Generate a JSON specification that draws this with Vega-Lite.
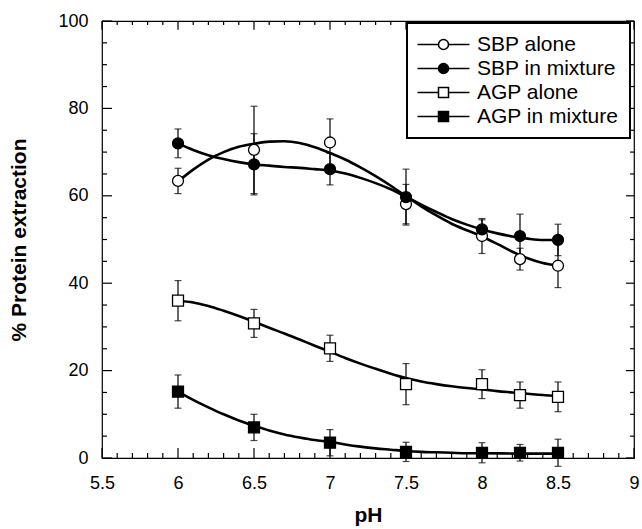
{
  "$schema": "https://vega.github.io/schema/vega-lite/v6.json",
  "autosize": "none",
  "width": 532,
  "height": 437,
  "padding": {"left": 102, "top": 21, "right": 8, "bottom": 71},
  "background": "white",
  "config": {
    "font": "Liberation Sans",
    "view": {"stroke": "black", "strokeWidth": 1.2},
    "axis": {"labelFont": "Liberation Sans", "titleFont": "Liberation Sans", "labelColor": "black", "titleColor": "black", "grid": false, "domain": false, "ticks": false},
    "legend": {"strokeWidth": 2}
  },
  "datasets": {
    "xmajor": [{"t": 5.5}, {"t": 6}, {"t": 6.5}, {"t": 7}, {"t": 7.5}, {"t": 8}, {"t": 8.5}, {"t": 9}],
    "xminor": [{"t": 5.6}, {"t": 5.7}, {"t": 5.8}, {"t": 5.9}, {"t": 6.1}, {"t": 6.2}, {"t": 6.3}, {"t": 6.4}, {"t": 6.6}, {"t": 6.7}, {"t": 6.8}, {"t": 6.9}, {"t": 7.1}, {"t": 7.2}, {"t": 7.3}, {"t": 7.4}, {"t": 7.6}, {"t": 7.7}, {"t": 7.8}, {"t": 7.9}, {"t": 8.1}, {"t": 8.2}, {"t": 8.3}, {"t": 8.4}, {"t": 8.6}, {"t": 8.7}, {"t": 8.8}, {"t": 8.9}],
    "ymajor": [{"t": 0}, {"t": 20}, {"t": 40}, {"t": 60}, {"t": 80}, {"t": 100}],
    "yminor": [{"t": 5}, {"t": 10}, {"t": 15}, {"t": 25}, {"t": 30}, {"t": 35}, {"t": 45}, {"t": 50}, {"t": 55}, {"t": 65}, {"t": 70}, {"t": 75}, {"t": 85}, {"t": 90}, {"t": 95}],
    "points": [
      {"pH": 6.0, "value": 63.4, "err": 2.9, "series": "SBP alone"},
      {"pH": 6.5, "value": 70.5, "err": 10.0, "series": "SBP alone"},
      {"pH": 7.0, "value": 72.2, "err": 5.4, "series": "SBP alone"},
      {"pH": 7.5, "value": 58.1, "err": 4.5, "series": "SBP alone"},
      {"pH": 8.0, "value": 50.8, "err": 4.0, "series": "SBP alone"},
      {"pH": 8.25, "value": 45.5, "err": 2.5, "series": "SBP alone"},
      {"pH": 8.5, "value": 44.0, "err": 5.0, "series": "SBP alone"},
      {"pH": 6.0, "value": 72.0, "err": 3.3, "series": "SBP in mixture"},
      {"pH": 6.5, "value": 67.2, "err": 7.0, "series": "SBP in mixture"},
      {"pH": 7.0, "value": 66.1, "err": 3.6, "series": "SBP in mixture"},
      {"pH": 7.5, "value": 59.7, "err": 6.4, "series": "SBP in mixture"},
      {"pH": 8.0, "value": 52.3, "err": 2.2, "series": "SBP in mixture"},
      {"pH": 8.25, "value": 50.8, "err": 5.0, "series": "SBP in mixture"},
      {"pH": 8.5, "value": 49.9, "err": 3.6, "series": "SBP in mixture"},
      {"pH": 6.0, "value": 36.0, "err": 4.6, "series": "AGP alone"},
      {"pH": 6.5, "value": 30.8, "err": 3.2, "series": "AGP alone"},
      {"pH": 7.0, "value": 25.1, "err": 3.0, "series": "AGP alone"},
      {"pH": 7.5, "value": 16.9, "err": 4.7, "series": "AGP alone"},
      {"pH": 8.0, "value": 16.9, "err": 3.3, "series": "AGP alone"},
      {"pH": 8.25, "value": 14.4, "err": 3.0, "series": "AGP alone"},
      {"pH": 8.5, "value": 14.0, "err": 3.4, "series": "AGP alone"},
      {"pH": 6.0, "value": 15.2, "err": 3.8, "series": "AGP in mixture"},
      {"pH": 6.5, "value": 7.0, "err": 3.0, "series": "AGP in mixture"},
      {"pH": 7.0, "value": 3.5, "err": 3.0, "series": "AGP in mixture"},
      {"pH": 7.5, "value": 1.4, "err": 2.2, "series": "AGP in mixture"},
      {"pH": 8.0, "value": 1.2, "err": 2.3, "series": "AGP in mixture"},
      {"pH": 8.25, "value": 1.2, "err": 1.9, "series": "AGP in mixture"},
      {"pH": 8.5, "value": 1.2, "err": 3.1, "series": "AGP in mixture"}
    ],
    "curves": [
      {"pH": 6.0, "value": 63.3, "series": "SBP alone"},
      {"pH": 6.1, "value": 66.0, "series": "SBP alone"},
      {"pH": 6.2, "value": 68.3, "series": "SBP alone"},
      {"pH": 6.3, "value": 70.0, "series": "SBP alone"},
      {"pH": 6.4, "value": 71.2, "series": "SBP alone"},
      {"pH": 6.5, "value": 71.9, "series": "SBP alone"},
      {"pH": 6.6, "value": 72.4, "series": "SBP alone"},
      {"pH": 6.7, "value": 72.5, "series": "SBP alone"},
      {"pH": 6.8, "value": 72.1, "series": "SBP alone"},
      {"pH": 6.9, "value": 71.1, "series": "SBP alone"},
      {"pH": 7.0, "value": 69.8, "series": "SBP alone"},
      {"pH": 7.1, "value": 68.3, "series": "SBP alone"},
      {"pH": 7.2, "value": 66.5, "series": "SBP alone"},
      {"pH": 7.3, "value": 64.5, "series": "SBP alone"},
      {"pH": 7.4, "value": 62.3, "series": "SBP alone"},
      {"pH": 7.5, "value": 59.9, "series": "SBP alone"},
      {"pH": 7.6, "value": 57.6, "series": "SBP alone"},
      {"pH": 7.7, "value": 55.5, "series": "SBP alone"},
      {"pH": 7.8, "value": 53.6, "series": "SBP alone"},
      {"pH": 7.9, "value": 52.1, "series": "SBP alone"},
      {"pH": 8.0, "value": 50.7, "series": "SBP alone"},
      {"pH": 8.1, "value": 49.0, "series": "SBP alone"},
      {"pH": 8.2, "value": 47.2, "series": "SBP alone"},
      {"pH": 8.3, "value": 45.7, "series": "SBP alone"},
      {"pH": 8.4, "value": 44.6, "series": "SBP alone"},
      {"pH": 8.5, "value": 44.0, "series": "SBP alone"},
      {"pH": 6.0, "value": 72.0, "series": "SBP in mixture"},
      {"pH": 6.1, "value": 70.5, "series": "SBP in mixture"},
      {"pH": 6.2, "value": 69.3, "series": "SBP in mixture"},
      {"pH": 6.3, "value": 68.4, "series": "SBP in mixture"},
      {"pH": 6.4, "value": 67.7, "series": "SBP in mixture"},
      {"pH": 6.5, "value": 67.2, "series": "SBP in mixture"},
      {"pH": 6.6, "value": 66.9, "series": "SBP in mixture"},
      {"pH": 6.7, "value": 66.6, "series": "SBP in mixture"},
      {"pH": 6.8, "value": 66.4, "series": "SBP in mixture"},
      {"pH": 6.9, "value": 66.1, "series": "SBP in mixture"},
      {"pH": 7.0, "value": 65.8, "series": "SBP in mixture"},
      {"pH": 7.1, "value": 65.1, "series": "SBP in mixture"},
      {"pH": 7.2, "value": 64.1, "series": "SBP in mixture"},
      {"pH": 7.3, "value": 62.9, "series": "SBP in mixture"},
      {"pH": 7.4, "value": 61.5, "series": "SBP in mixture"},
      {"pH": 7.5, "value": 59.8, "series": "SBP in mixture"},
      {"pH": 7.6, "value": 58.0, "series": "SBP in mixture"},
      {"pH": 7.7, "value": 56.3, "series": "SBP in mixture"},
      {"pH": 7.8, "value": 54.7, "series": "SBP in mixture"},
      {"pH": 7.9, "value": 53.4, "series": "SBP in mixture"},
      {"pH": 8.0, "value": 52.3, "series": "SBP in mixture"},
      {"pH": 8.1, "value": 51.4, "series": "SBP in mixture"},
      {"pH": 8.2, "value": 50.7, "series": "SBP in mixture"},
      {"pH": 8.3, "value": 50.2, "series": "SBP in mixture"},
      {"pH": 8.4, "value": 49.9, "series": "SBP in mixture"},
      {"pH": 8.5, "value": 49.9, "series": "SBP in mixture"},
      {"pH": 6.0, "value": 36.0, "series": "AGP alone"},
      {"pH": 6.1, "value": 35.6, "series": "AGP alone"},
      {"pH": 6.2, "value": 34.8, "series": "AGP alone"},
      {"pH": 6.3, "value": 33.7, "series": "AGP alone"},
      {"pH": 6.4, "value": 32.5, "series": "AGP alone"},
      {"pH": 6.5, "value": 31.2, "series": "AGP alone"},
      {"pH": 6.6, "value": 29.8, "series": "AGP alone"},
      {"pH": 6.7, "value": 28.5, "series": "AGP alone"},
      {"pH": 6.8, "value": 27.1, "series": "AGP alone"},
      {"pH": 6.9, "value": 25.7, "series": "AGP alone"},
      {"pH": 7.0, "value": 24.3, "series": "AGP alone"},
      {"pH": 7.1, "value": 22.9, "series": "AGP alone"},
      {"pH": 7.2, "value": 21.6, "series": "AGP alone"},
      {"pH": 7.3, "value": 20.4, "series": "AGP alone"},
      {"pH": 7.4, "value": 19.3, "series": "AGP alone"},
      {"pH": 7.5, "value": 18.3, "series": "AGP alone"},
      {"pH": 7.6, "value": 17.5, "series": "AGP alone"},
      {"pH": 7.7, "value": 16.9, "series": "AGP alone"},
      {"pH": 7.8, "value": 16.4, "series": "AGP alone"},
      {"pH": 7.9, "value": 16.0, "series": "AGP alone"},
      {"pH": 8.0, "value": 15.7, "series": "AGP alone"},
      {"pH": 8.1, "value": 15.3, "series": "AGP alone"},
      {"pH": 8.2, "value": 15.0, "series": "AGP alone"},
      {"pH": 8.3, "value": 14.7, "series": "AGP alone"},
      {"pH": 8.4, "value": 14.4, "series": "AGP alone"},
      {"pH": 8.5, "value": 14.2, "series": "AGP alone"},
      {"pH": 6.0, "value": 15.2, "series": "AGP in mixture"},
      {"pH": 6.1, "value": 13.3, "series": "AGP in mixture"},
      {"pH": 6.2, "value": 11.6, "series": "AGP in mixture"},
      {"pH": 6.3, "value": 10.0, "series": "AGP in mixture"},
      {"pH": 6.4, "value": 8.6, "series": "AGP in mixture"},
      {"pH": 6.5, "value": 7.4, "series": "AGP in mixture"},
      {"pH": 6.6, "value": 6.3, "series": "AGP in mixture"},
      {"pH": 6.7, "value": 5.4, "series": "AGP in mixture"},
      {"pH": 6.8, "value": 4.7, "series": "AGP in mixture"},
      {"pH": 6.9, "value": 4.1, "series": "AGP in mixture"},
      {"pH": 7.0, "value": 3.7, "series": "AGP in mixture"},
      {"pH": 7.1, "value": 3.1, "series": "AGP in mixture"},
      {"pH": 7.2, "value": 2.6, "series": "AGP in mixture"},
      {"pH": 7.3, "value": 2.2, "series": "AGP in mixture"},
      {"pH": 7.4, "value": 1.9, "series": "AGP in mixture"},
      {"pH": 7.5, "value": 1.6, "series": "AGP in mixture"},
      {"pH": 7.6, "value": 1.4, "series": "AGP in mixture"},
      {"pH": 7.7, "value": 1.3, "series": "AGP in mixture"},
      {"pH": 7.8, "value": 1.2, "series": "AGP in mixture"},
      {"pH": 7.9, "value": 1.1, "series": "AGP in mixture"},
      {"pH": 8.0, "value": 1.1, "series": "AGP in mixture"},
      {"pH": 8.25, "value": 1.0, "series": "AGP in mixture"},
      {"pH": 8.5, "value": 1.0, "series": "AGP in mixture"}
    ]
  },
  "resolve": {
    "scale": {"shape": "independent", "fill": "independent"}
  },
  "layer": [
    {
      "data": {"name": "curves"},
      "mark": {"type": "line", "color": "black", "strokeWidth": 2.6, "interpolate": "monotone"},
      "encoding": {
        "x": {"field": "pH", "type": "quantitative", "title": "pH", "scale": {"domain": [5.5, 9], "nice": false, "zero": false},
          "axis": {"orient": "bottom", "title": "pH", "titleFontSize": 21, "titleFontWeight": "bold", "titlePadding": 12,
            "values": [5.5, 6, 6.5, 7, 7.5, 8, 8.5, 9],
            "format": ".1~f", "labelFlush": false, "labelFontSize": 18, "labelPadding": 16, "labelOverlap": false}},
        "y": {"field": "value", "type": "quantitative", "title": "% Protein extraction", "scale": {"domain": [0, 100], "nice": false},
          "axis": {"orient": "left", "title": "% Protein extraction", "titleFontSize": 21, "titleFontWeight": "bold", "titlePadding": 28,
            "values": [0, 20, 40, 60, 80, 100],
            "format": "d", "labelFontSize": 18, "labelPadding": 14, "labelOverlap": false}},
        "detail": {"field": "series", "type": "nominal"}
      }
    },
    {
      "data": {"name": "xmajor"},
      "mark": {"type": "rule", "color": "black", "strokeWidth": 1.2},
      "encoding": {"x": {"field": "t", "type": "quantitative", "title": "pH"}, "y": {"datum": 0, "title": "% Protein extraction"}, "y2": {"datum": 2.3}}
    },
    {
      "data": {"name": "xminor"},
      "mark": {"type": "rule", "color": "black", "strokeWidth": 1.2},
      "encoding": {"x": {"field": "t", "type": "quantitative", "title": "pH"}, "y": {"datum": 0, "title": "% Protein extraction"}, "y2": {"datum": 1.15}}
    },
    {
      "data": {"name": "xmajor"},
      "mark": {"type": "rule", "color": "black", "strokeWidth": 1.2},
      "encoding": {"x": {"field": "t", "type": "quantitative", "title": "pH"}, "y": {"datum": 100, "title": "% Protein extraction"}, "y2": {"datum": 98.0}}
    },
    {
      "data": {"name": "xminor"},
      "mark": {"type": "rule", "color": "black", "strokeWidth": 1.2},
      "encoding": {"x": {"field": "t", "type": "quantitative", "title": "pH"}, "y": {"datum": 100, "title": "% Protein extraction"}, "y2": {"datum": 99.1}}
    },
    {
      "data": {"name": "ymajor"},
      "mark": {"type": "rule", "color": "black", "strokeWidth": 1.2},
      "encoding": {"y": {"field": "t", "type": "quantitative", "title": "% Protein extraction"}, "x": {"datum": 5.5, "title": "pH"}, "x2": {"datum": 5.566}}
    },
    {
      "data": {"name": "yminor"},
      "mark": {"type": "rule", "color": "black", "strokeWidth": 1.2},
      "encoding": {"y": {"field": "t", "type": "quantitative", "title": "% Protein extraction"}, "x": {"datum": 5.5, "title": "pH"}, "x2": {"datum": 5.533}}
    },
    {
      "data": {"name": "ymajor"},
      "mark": {"type": "rule", "color": "black", "strokeWidth": 1.2},
      "encoding": {"y": {"field": "t", "type": "quantitative", "title": "% Protein extraction"}, "x": {"datum": 9, "title": "pH"}, "x2": {"datum": 8.947}}
    },
    {
      "data": {"name": "yminor"},
      "mark": {"type": "rule", "color": "black", "strokeWidth": 1.2},
      "encoding": {"y": {"field": "t", "type": "quantitative", "title": "% Protein extraction"}, "x": {"datum": 9, "title": "pH"}, "x2": {"datum": 8.974}}
    },
    {
      "data": {"name": "points"},
      "mark": {"type": "errorbar", "ticks": {"size": 7}, "thickness": 1.2, "color": "black"},
      "encoding": {
        "x": {"field": "pH", "type": "quantitative", "title": "pH"},
        "y": {"field": "value", "type": "quantitative", "title": "% Protein extraction"},
        "yError": {"field": "err"}
      }
    },
    {
      "data": {"name": "points"},
      "mark": {"type": "point", "filled": true, "stroke": "black", "strokeWidth": 1.3, "opacity": 1, "size": 120},
      "encoding": {
        "x": {"field": "pH", "type": "quantitative", "title": "pH"},
        "y": {"field": "value", "type": "quantitative", "title": "% Protein extraction"},
        "shape": {"field": "series", "type": "nominal", "legend": null,
          "scale": {"domain": ["SBP alone", "SBP in mixture", "AGP alone", "AGP in mixture"], "range": ["circle", "circle", "square", "square"]}},
        "fill": {"field": "series", "type": "nominal", "legend": null,
          "scale": {"domain": ["SBP alone", "SBP in mixture", "AGP alone", "AGP in mixture"], "range": ["white", "black", "white", "black"]}}
      }
    },
    {
      "data": {"name": "points"},
      "transform": [{"filter": "datum.pH > 100"}],
      "mark": {"type": "point", "filled": true, "stroke": "black", "strokeWidth": 1.5, "opacity": 1, "size": 100},
      "encoding": {
        "x": {"field": "pH", "type": "quantitative", "title": "pH"},
        "y": {"field": "value", "type": "quantitative", "title": "% Protein extraction"},
        "shape": {"field": "series", "type": "nominal",
          "scale": {"domain": ["SBP alone", "SBP in mixture", "AGP alone", "AGP in mixture"],
            "range": [
              "M-5.2,0H-1M1,0H5.2M1,0A1,1,0,1,1,-1,0A1,1,0,1,1,1,0Z",
              "M-5.2,0H-1M1,0H5.2M1,0A1,1,0,1,1,-1,0A1,1,0,1,1,1,0Z",
              "M-5.2,0H-1M1,0H5.2M-1,-1H1V1H-1Z",
              "M-5.2,0H-1M1,0H5.2M-1,-1H1V1H-1Z"]},
          "legend": {"title": null, "orient": "none", "legendX": 305, "legendY": 2,
            "fillColor": "white", "strokeColor": "black", "padding": 11,
            "symbolSize": 100, "symbolOffset": 15,
            "labelFontSize": 21, "labelFont": "Liberation Sans", "labelColor": "black", "labelOffset": 23, "rowPadding": 2,
            "encode": {"symbols": {"enter": {
              "stroke": {"value": "#000000"},
              "strokeWidth": {"value": 1.5},
              "strokeOpacity": {"value": 1}
            }}}}},
        "fill": {"field": "series", "type": "nominal",
          "scale": {"domain": ["SBP alone", "SBP in mixture", "AGP alone", "AGP in mixture"], "range": ["white", "black", "white", "black"]},
          "legend": {"title": null, "orient": "none", "legendX": 305, "legendY": 2,
            "fillColor": "white", "strokeColor": "black", "padding": 11,
            "symbolSize": 100, "symbolOffset": 15,
            "labelFontSize": 21, "labelFont": "Liberation Sans", "labelColor": "black", "labelOffset": 23, "rowPadding": 2,
            "encode": {"symbols": {"enter": {
              "stroke": {"value": "#000000"},
              "strokeWidth": {"value": 1.5},
              "strokeOpacity": {"value": 1}
            }}}}}
      }
    }
  ]
}
